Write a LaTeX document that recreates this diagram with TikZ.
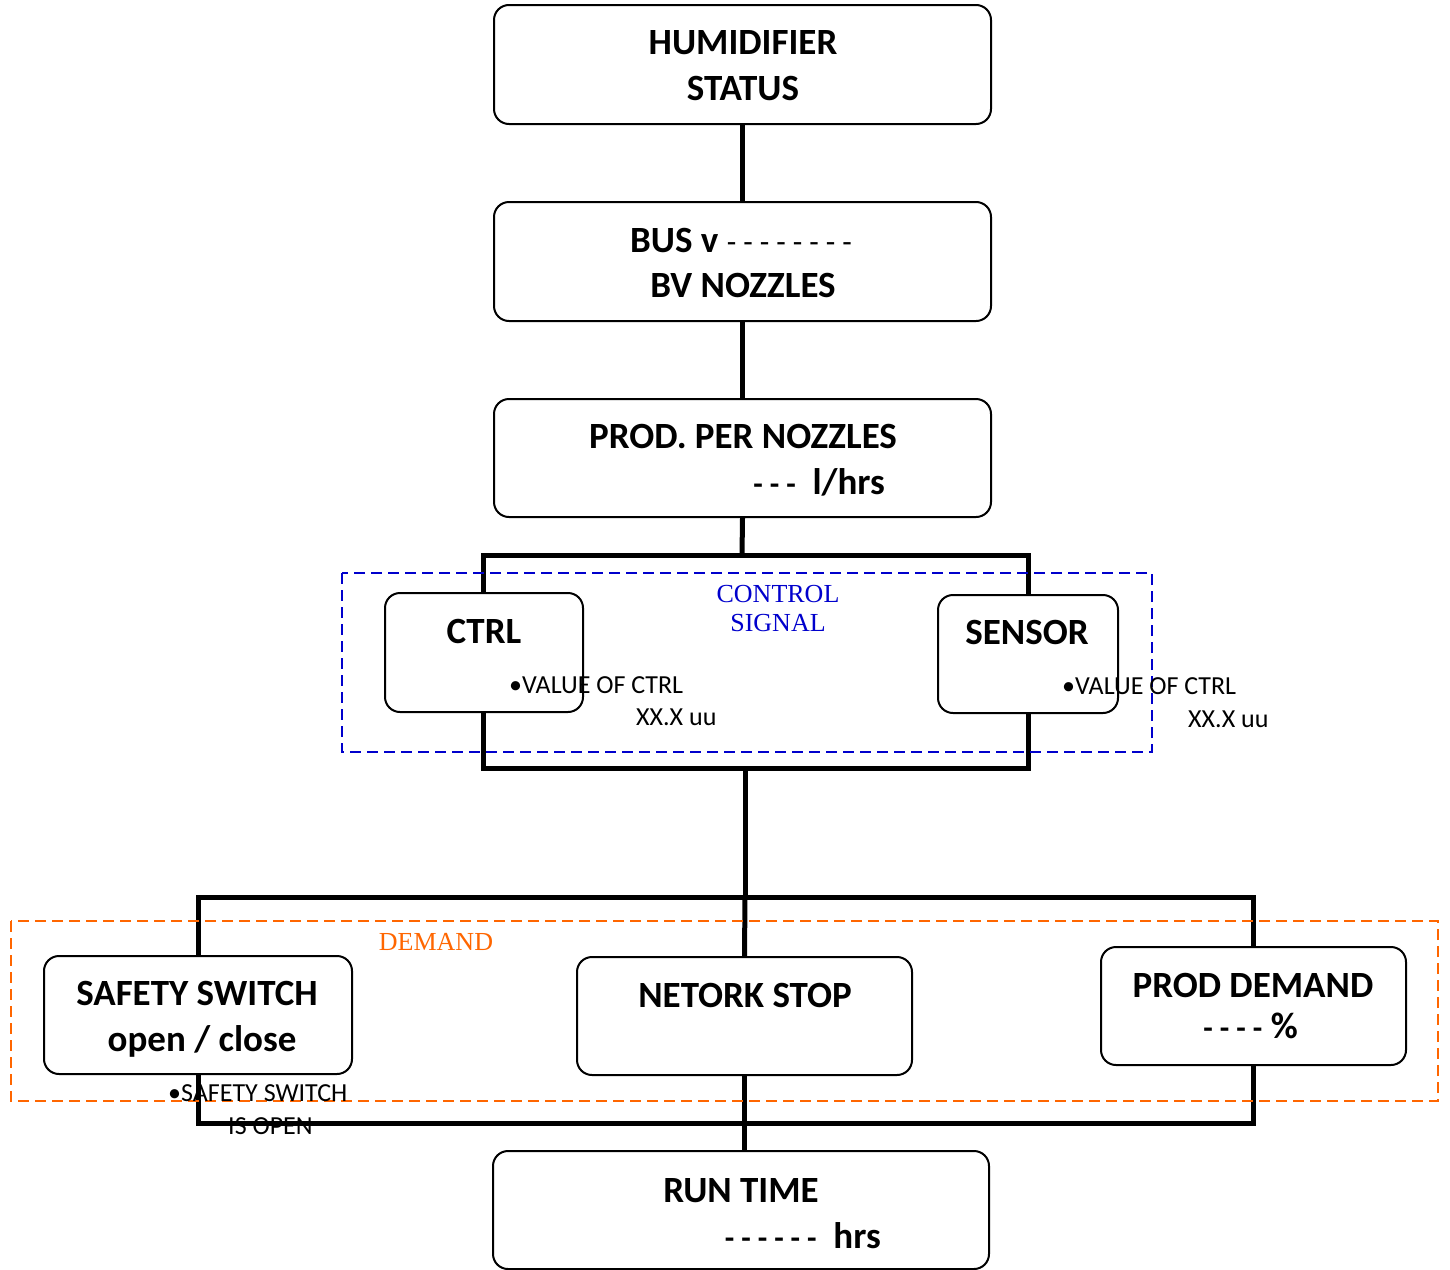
\documentclass[tikz,border=0pt]{standalone}
\usepackage{fontspec}
\setmainfont{Carlito}
\newfontfamily\serifft{Liberation Serif}
\newcommand{\dashrun}[1]{{\fontsize{31}{45}\selectfont #1}}
\begin{document}
\begin{tikzpicture}[x=1pt,y=-1pt,
  box/.style={draw=black, line width=2pt, rounded corners=15pt, fill=white},
  wire/.style={draw=black, line width=5pt},
  big/.style={font=\fontsize{37}{45}\selectfont\bfseries, inner sep=0pt},
  small/.style={font=\fontsize{26}{32}\selectfont, inner sep=0pt},
  grp/.style={line width=2.4pt, dash pattern=on 11pt off 6pt},
  grplabel/.style={font=\serifft\fontsize{26}{29}\selectfont, inner sep=0pt, align=center}
]
\definecolor{grpblue}{RGB}{0,0,204}
\definecolor{grporange}{RGB}{255,102,0}
\useasboundingbox (0,0) rectangle (1450,1269);

% frames (brackets)
\coordinate (f1tl) at (483,555);
\coordinate (f1br) at (1028,768);
\coordinate (f2tl) at (198,897);
\coordinate (f2br) at (1253,1123);
\draw[wire] (f1tl) rectangle (f1br);
\draw[wire] (f2tl) rectangle (f2br);

% boxes
\node[box, minimum width=497pt, minimum height=119pt] (hum) at (742.5,64.5) {};
\node[box, minimum width=497pt, minimum height=119pt] (bus) at (742.5,261.5) {};
\node[box, minimum width=497pt, minimum height=118pt] (prod) at (742.5,458) {};
\node[box, minimum width=335pt, minimum height=118pt] (net) at (744.5,1016) {};
\node[box, minimum width=496pt, minimum height=118pt] (run) at (741,1210) {};

\coordinate (f1top) at (742,555);
\coordinate (f1bot) at (745,768);
\coordinate (f2top) at (745,897);
\coordinate (f2bot) at (741,1123);

% connectors
\draw[wire] (hum.south) -- (bus.north);
\draw[wire] (bus.south) -- (prod.north);
\draw[wire] (prod.south) -- (f1top);
\draw[wire] (f1bot) -- (f2top);
\draw[wire] (f2top) -- (net.north);
\draw[wire] (net.south) -- (net.south |- run.north);

% dashed groups
\coordinate (g1tl) at (342,573);
\coordinate (g1br) at (1152,752);
\coordinate (g2tl) at (11,921);
\coordinate (g2br) at (1438,1101);
\draw[grp, draw=grpblue] (g1tl) rectangle (g1br);
\draw[grp, draw=grporange] (g2tl) rectangle (g2br);

% boxes on frames
\node[box, minimum width=198pt, minimum height=119pt] (ctrl) at (484,652.5) {};
\node[box, minimum width=180pt, minimum height=118pt] (sens) at (1028,654) {};
\node[box, minimum width=308pt, minimum height=118pt] (safe) at (198,1015) {};
\node[box, minimum width=305pt, minimum height=118pt] (pdem) at (1253.5,1006) {};

% texts
\node[big, anchor=base] (t1) at (743,54) {HUMIDIFIER};
\node[big, anchor=base] (t2) at (743,100) {STATUS};
\node[big, anchor=base west] (t3) at (630,252) {BUS v \dashrun{\mdseries - - - - - - - -}};
\node[big, anchor=base] (t4) at (743,297) {BV NOZZLES};
\node[big, anchor=base] (t5) at (743,448) {PROD. PER NOZZLES};
\node[big, anchor=base east] (t6) at (885,494) {\dashrun{- - -}\ \ l/hrs};
\node[big, anchor=base] (t7) at (484,643) {CTRL};
\node[big, anchor=base] (t8) at (1027,644) {SENSOR};
\node[big, anchor=base] (t9) at (197,1005) {SAFETY SWITCH};
\node[big, anchor=base] (t10) at (202,1051) {open / close};
\node[big, anchor=base] (t11) at (745,1007) {NETORK STOP};
\node[big, anchor=base] (t12) at (1253,997) {PROD DEMAND};
\node[big, anchor=base east] (t13) at (1298,1038) {\dashrun{- - - -} \%};
\node[big, anchor=base] (t14) at (741,1202) {RUN TIME};
\node[big, anchor=base east] (t15) at (881,1248) {\dashrun{- - - - - -}\ \ hrs};

\node[small, anchor=base west] (s1) at (509,693) {•VALUE OF CTRL};
\node[small, anchor=base west] (s2) at (636,725) {XX.X uu};
\node[small, anchor=base west] (s3) at (1062,694) {•VALUE OF CTRL};
\node[small, anchor=base west] (s4) at (1188,727) {XX.X uu};
\node[small, anchor=base west] (s5) at (168,1101) {•SAFETY SWITCH};
\node[small, anchor=base west] (s6) at (228,1134) {IS OPEN};

\node[grplabel, text=grpblue, anchor=base] (l1) at (778,602) {CONTROL};
\node[grplabel, text=grpblue, anchor=base] (l2) at (778,631) {SIGNAL};
\node[grplabel, text=grporange, anchor=base] (l3) at (436,950) {DEMAND};
\end{tikzpicture}
\end{document}
